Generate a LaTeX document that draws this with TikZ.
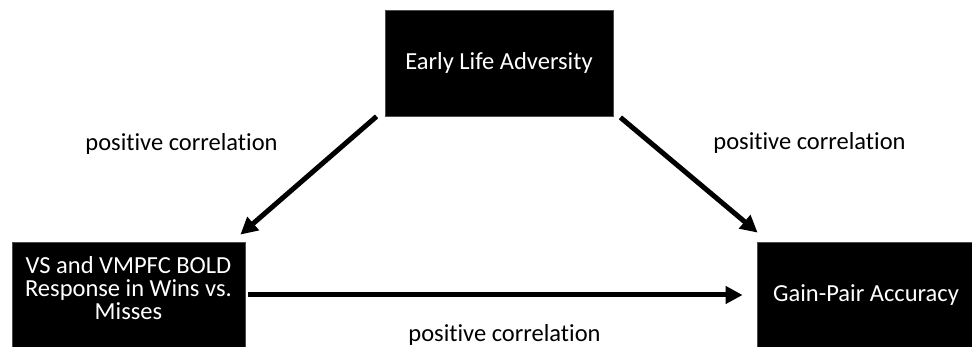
\documentclass[tikz,border=0pt]{standalone}
\usepackage{fontspec}
\setmainfont{Carlito}[Ligatures={NoCommon}]
\usetikzlibrary{arrows.meta,calc}
\begin{document}
\begin{tikzpicture}[x=1pt,y=-1pt,
  blackbox/.style={draw=black!70,line width=0.8pt,fill=black,text=white,inner sep=0pt,
    font=\fontsize{24.5}{23}\selectfont,align=center},
  corr/.style={font=\fontsize{24.5}{23}\selectfont,text=black,inner sep=0pt},
  link/.style={line width=5pt,-{Triangle[length=17pt,width=17pt]}}]
\useasboundingbox (0,0) rectangle (972,347);
\clip (0,0) rectangle (972,347);
\node[blackbox,minimum width=228pt,minimum height=106pt] (adv) at (499,63) {Early Life Adversity};
\node[blackbox,minimum width=233pt,minimum height=106pt] (bold) at (128.5,295)
  {\parbox[c][106pt][c]{230pt}{\centering VS and VMPFC BOLD\\Response in Wins vs.\\Misses\par\vspace{14pt}}};
\node[blackbox,minimum width=218pt,minimum height=106pt] (acc) at (866,295) {Gain-Pair Accuracy};
\node[corr] (c1) at (181.5,144) {positive correlation};
\node[corr] (c2) at (809.5,143) {positive correlation};
\node[corr] (c3) at (504.5,335) {positive correlation};
\draw[link] ($(adv.south west)+(-8,0)$) -- ($(bold.north east)+(-5,-7)$);
\draw[link] ($(adv.south east)+(7,1)$) -- ($(acc.north west)+(1,-9)$);
\draw[link] ($(bold.east)+(3,0)$) -- ($(acc.west)+(-14,0)$);
\end{tikzpicture}
\end{document}
